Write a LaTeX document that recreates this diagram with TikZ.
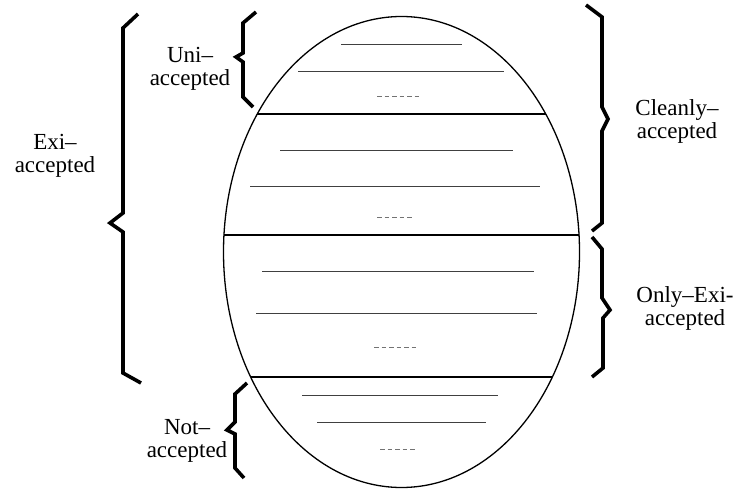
\documentclass[tikz,border=0pt]{standalone}
\usepackage{fontspec}
\setmainfont{Liberation Serif}
\begin{document}
\begin{tikzpicture}[x=1pt,y=-1pt,
  lbl/.style={align=center,inner sep=0pt,font=\fontsize{23}{23}\selectfont},
  brace/.style={line width=3.6pt,line join=miter},
  txtline/.style={line width=0.9pt,black!75},
  dotline/.style={line width=0.9pt,black!55,dash pattern=on 4.5pt off 3pt},
  chord/.style={line width=1.8pt}]
\useasboundingbox (0,0) rectangle (741,489);
% ellipse
\draw[line width=1.3pt] (401.5,252) ellipse [x radius=178, y radius=235.5];
\begin{scope}
\clip (401.5,252) ellipse [x radius=178, y radius=235.5];
\draw[chord] (200,114) -- (600,114);
\draw[chord] (200,235) -- (600,235);
\draw[chord] (200,377) -- (600,377);
\end{scope}
% text lines
\draw[txtline] (341,44) -- (462,44);
\draw[txtline] (298,71) -- (504,71);
\draw[dotline] (377,96) -- (420,96);
\draw[txtline] (280,150) -- (513,150);
\draw[txtline] (250,186) -- (540,186);
\draw[dotline] (377,217) -- (414,217);
\draw[txtline] (262,271) -- (534,271);
\draw[txtline] (256,313) -- (537,313);
\draw[dotline] (374,347) -- (419,347);
\draw[txtline] (302,395) -- (498,395);
\draw[txtline] (317,422) -- (486,422);
\draw[dotline] (380,449) -- (417,449);
% braces
\draw[brace] (138,14) -- (123,28) -- (123,213) -- (110,223) -- (123,232) -- (123,373) -- (141,383);
\draw[brace] (256,12) -- (243,23) -- (243,53) -- (236,57) -- (243,62) -- (243,97) -- (253,107);
\draw[brace] (586,5) -- (602,17) -- (602,107) -- (608,119) -- (602,131) -- (602,223) -- (592,231);
\draw[brace] (592,237) -- (602,249) -- (602,298) -- (610,310) -- (603,318) -- (603,368) -- (592,377);
\draw[brace] (247,383) -- (235,394) -- (235,422) -- (227,430) -- (235,434) -- (235,468) -- (244,478);
% labels
\node[lbl] (exi) at (55,156) {Exi–\\accepted};
\node[lbl] (uni) at (190,69) {Uni–\\accepted};
\node[lbl] (clean) at (677,121) {Cleanly–\\accepted};
\node[lbl] (only) at (685,308) {Only–Exi-\\accepted};
\node[lbl] (not) at (187,441) {Not–\\accepted};
\end{tikzpicture}
\end{document}
